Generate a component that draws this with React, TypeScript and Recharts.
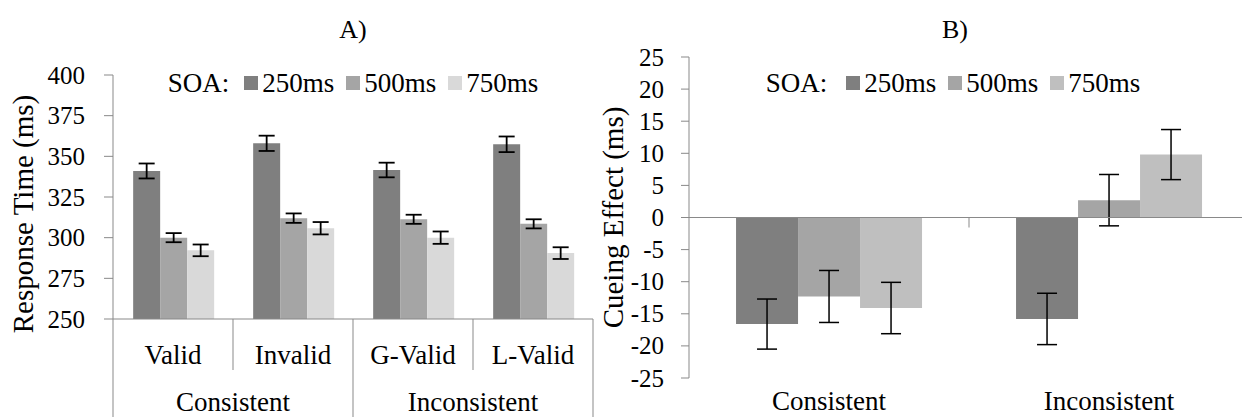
import React from 'react';
import { BarChart, Bar, XAxis, YAxis, ErrorBar, Legend, ReferenceLine } from 'recharts';

const FONT = "'Liberation Serif', 'Times New Roman', Times, serif";
const AXIS_GREY = '#898989';

// A) response times per cue condition
const CONDITIONS_A = ['Valid', 'Invalid', 'G-Valid', 'L-Valid'];
const GROUPS_A = ['Consistent', 'Inconsistent'];
const RT_250 = [341, 358, 341.6, 357.4];
const RT_500 = [300, 312, 311.3, 308.5];
const RT_750 = [292.2, 305.8, 300, 290.5];
const RT_ERR_250 = [4.6, 4.7, 4.5, 4.8];
const RT_ERR_500 = [2.8, 2.9, 2.8, 2.8];
const RT_ERR_750 = [3.6, 3.8, 3.8, 3.6];
const Y_TICKS_A = [250, 275, 300, 325, 350, 375, 400];

// B) cueing effect
const CONDITIONS_B = ['Consistent', 'Inconsistent'];
const CUE_250 = [-16.6, -15.8];
const CUE_500 = [-12.3, 2.7];
const CUE_750 = [-14.1, 9.8];
const CUE_ERR_250 = [3.9, 4.0];
const CUE_ERR_500 = [4.05, 4.0];
const CUE_ERR_750 = [4.0, 3.9];
const Y_TICKS_B = [-25, -20, -15, -10, -5, 0, 5, 10, 15, 20, 25];

const SOA_NAMES = ['250ms', '500ms', '750ms'];
const COLORS_A = ['#7f7f7f', '#a5a5a5', '#d9d9d9'];
const COLORS_B = ['#7f7f7f', '#a5a5a5', '#bfbfbf'];

const dataA = CONDITIONS_A.map((cond, i) => ({
  cond,
  v250: RT_250[i],
  v500: RT_500[i],
  v750: RT_750[i],
  e250: RT_ERR_250[i],
  e500: RT_ERR_500[i],
  e750: RT_ERR_750[i],
}));

const dataB = CONDITIONS_B.map((cond, i) => ({
  cond,
  v250: CUE_250[i],
  v500: CUE_500[i],
  v750: CUE_750[i],
  e250: CUE_ERR_250[i],
  e500: CUE_ERR_500[i],
  e750: CUE_ERR_750[i],
}));

function SoaLegend({ payload, soaGap }: any) {
  return (
    <div
      style={{
        display: 'flex',
        justifyContent: 'center',
        alignItems: 'center',
        fontFamily: FONT,
        fontSize: 27,
        lineHeight: '28px',
        color: '#000',
        whiteSpace: 'nowrap',
      }}
    >
      <span style={{ marginRight: soaGap }}>SOA:</span>
      {(payload || []).map((p: any, i: number) => (
        <span
          key={p.value}
          style={{ display: 'inline-flex', alignItems: 'center', marginRight: i < 2 ? 12 : 0 }}
        >
          <span style={{ display: 'inline-block', width: 14, height: 14, background: p.color, marginRight: 4 }} />
          {p.value}
        </span>
      ))}
    </div>
  );
}

function ValueTick(props: any) {
  const { x, y, payload } = props;
  return (
    <text x={x} y={y} textAnchor="end" dominantBaseline="central" fontFamily={FONT} fontSize={25} fill="#000">
      {payload.value}
    </text>
  );
}

function ConditionTick(props: any) {
  const { x, y, payload } = props;
  const idx = props.index ?? payload.index;
  const half = payload.offset || (props.width ? props.width / CONDITIONS_A.length / 2 : 60);
  const first = idx % 2 === 0;
  const last = idx === CONDITIONS_A.length - 1;
  const lineStyle = { stroke: AXIS_GREY, strokeWidth: 1 };
  return (
    <g>
      <text x={x} y={y + 36} textAnchor="middle" dominantBaseline="central" fontFamily={FONT} fontSize={27} fill="#000">
        {payload.value}
      </text>
      {first && <line x1={x + half} y1={y} x2={x + half} y2={y + 51} {...lineStyle} />}
      {first && <line x1={x - half} y1={y} x2={x - half} y2={y + 100} {...lineStyle} />}
      {last && <line x1={x + half} y1={y} x2={x + half} y2={y + 100} {...lineStyle} />}
      {first && (
        <text x={x + half} y={y + 83} textAnchor="middle" dominantBaseline="central" fontFamily={FONT} fontSize={27} fill="#000">
          {GROUPS_A[idx / 2]}
        </text>
      )}
    </g>
  );
}

function CueTick(props: any) {
  const { x, y, payload } = props;
  return (
    <text x={x} y={y + 23} textAnchor="middle" dominantBaseline="central" fontFamily={FONT} fontSize={27} fill="#000">
      {payload.value}
    </text>
  );
}

function ZeroLine(p: any) {
  const mid = (p.x1 + p.x2) / 2;
  return (
    <g>
      <line x1={p.x1} y1={p.y1} x2={p.x2} y2={p.y2} stroke={AXIS_GREY} strokeWidth={1.2} />
      <line x1={mid} y1={p.y1} x2={mid} y2={p.y1 + 10} stroke={AXIS_GREY} strokeWidth={1} />
    </g>
  );
}

function yLabel(text: string, dy: number) {
  return (props: any) => {
    const vb = props.viewBox || {};
    const cx = vb.x + 15;
    const cy = vb.y + vb.height / 2 + dy;
    return (
      <text
        x={cx}
        y={cy}
        transform={`rotate(-90 ${cx} ${cy})`}
        textAnchor="middle"
        dominantBaseline="central"
        fontFamily={FONT}
        fontSize={29}
        fill="#000"
      >
        {text}
      </text>
    );
  };
}

const titleStyle: React.CSSProperties = {
  position: 'absolute',
  top: 16,
  fontFamily: FONT,
  fontSize: 26,
  lineHeight: '28px',
  transform: 'translateX(-50%)',
  color: '#000',
};

export default function App() {
  return (
    <div
      style={{
        position: 'absolute',
        left: 0,
        top: 0,
        width: 1242,
        height: 417,
        overflow: 'hidden',
        background: '#fff',
        fontFamily: FONT,
      }}
    >
      <div style={{ ...titleStyle, left: 353 }}>A)</div>
      <div style={{ ...titleStyle, left: 955 }}>B)</div>

      <div style={{ position: 'absolute', left: 0, top: 0 }}>
        <BarChart
          width={620}
          height={417}
          data={dataA}
          margin={{ top: 75, right: 27, bottom: 0, left: 8 }}
          barCategoryGap="16.8%"
          barGap={0}
          style={{ fontFamily: FONT }}
        >
          <XAxis
            dataKey="cond"
            interval={0}
            tickLine={false}
            tickSize={0}
            tickMargin={0}
            axisLine={{ stroke: AXIS_GREY }}
            height={98}
            tick={(p: any) => <ConditionTick {...p} />}
          />
          <YAxis
            domain={[250, 400]}
            ticks={Y_TICKS_A}
            interval={0}
            width={105}
            tickSize={9}
            tickMargin={19}
            axisLine={{ stroke: AXIS_GREY }}
            tickLine={{ stroke: AXIS_GREY }}
            tick={(p: any) => <ValueTick {...p} />}
            label={yLabel('Response Time (ms)', 17)}
          />
          <Legend
            layout="horizontal"
            verticalAlign="middle"
            align="center"
            wrapperStyle={{ top: 69, left: 113, width: 480 }}
            content={(p: any) => <SoaLegend payload={p.payload} soaGap={15} />}
          />
          {(['v250', 'v500', 'v750'] as const).map((key, i) => (
            <Bar key={key} dataKey={key} name={SOA_NAMES[i]} fill={COLORS_A[i]} isAnimationActive={false}>
              <ErrorBar dataKey={'e' + key.slice(1)} width={8} stroke="#000" strokeWidth={1.8} isAnimationActive={false} />
            </Bar>
          ))}
        </BarChart>
      </div>

      <div style={{ position: 'absolute', left: 590, top: 0 }}>
        <BarChart
          width={659}
          height={417}
          data={dataB}
          margin={{ top: 57, right: 0, bottom: 0, left: 8 }}
          barCategoryGap="16.8%"
          barGap={0}
          style={{ fontFamily: FONT }}
        >
          <XAxis
            dataKey="cond"
            interval={0}
            axisLine={false}
            tickLine={false}
            tickSize={0}
            tickMargin={0}
            height={39}
            tick={(p: any) => <CueTick {...p} />}
          />
          <YAxis
            domain={[-25, 25]}
            ticks={Y_TICKS_B}
            interval={0}
            width={91}
            tickSize={8}
            tickMargin={17}
            axisLine={{ stroke: AXIS_GREY }}
            tickLine={{ stroke: AXIS_GREY }}
            tick={(p: any) => <ValueTick {...p} />}
            label={yLabel('Cueing Effect (ms)', 0)}
          />
          <Legend
            layout="horizontal"
            verticalAlign="middle"
            align="center"
            wrapperStyle={{ top: 69, left: 92, width: 542 }}
            content={(p: any) => <SoaLegend payload={p.payload} soaGap={19} />}
          />
          {(['v250', 'v500', 'v750'] as const).map((key, i) => (
            <Bar key={key} dataKey={key} name={SOA_NAMES[i]} fill={COLORS_B[i]} isAnimationActive={false}>
              <ErrorBar dataKey={'e' + key.slice(1)} width={10} stroke="#000" strokeWidth={1.5} isAnimationActive={false} />
            </Bar>
          ))}
          <ReferenceLine y={0} shape={(p: any) => <ZeroLine {...p} />} />
        </BarChart>
      </div>
    </div>
  );
}
